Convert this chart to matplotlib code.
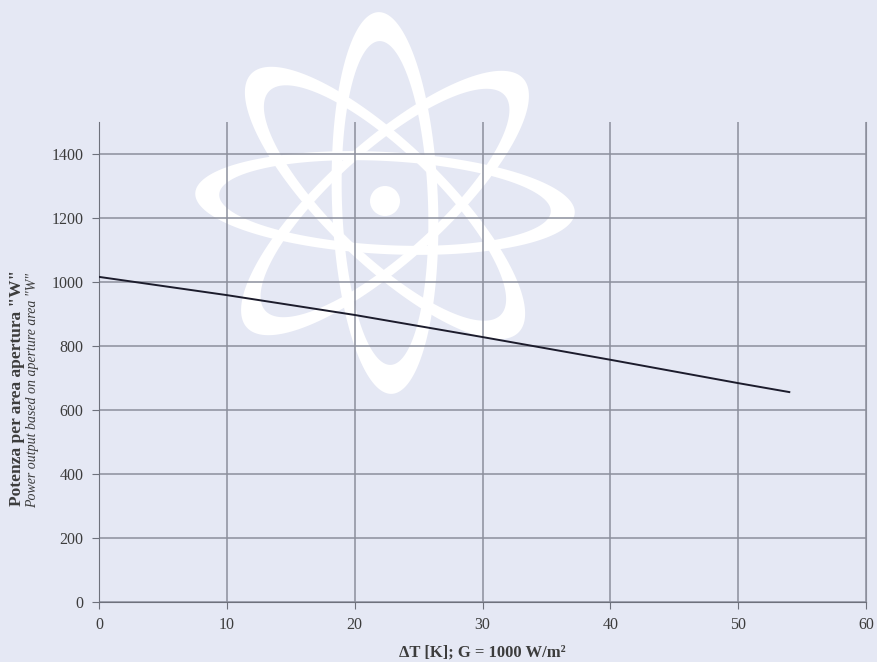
import numpy as np
import matplotlib.pyplot as plt
from matplotlib.path import Path
from matplotlib.patches import PathPatch, Circle

# collector power vs temperature difference
delta_t = [0, 10, 20, 30, 40, 50, 54]
power = [1016, 959, 897, 828, 757, 684, 656]

x_ticks = [0, 10, 20, 30, 40, 50, 60]
y_ticks = [0, 200, 400, 600, 800, 1000, 1200, 1400]

bg = '#e5e8f4'
grid_col = '#8c8f9c'
text_col = '#3c3c3c'

W, H = 877, 662
fig = plt.figure(figsize=(W / 100, H / 100), dpi=100)
fig.patch.set_facecolor(bg)


def ring(cx, cy, a, b, a_in, b_in, angle):
    t = np.linspace(0, 2 * np.pi, 200)
    outer = np.column_stack([a * np.cos(t), b * np.sin(t)])
    inner = np.column_stack([a_in * np.cos(t), b_in * np.sin(t)])[::-1]
    th = np.radians(angle)
    rot = np.array([[np.cos(th), -np.sin(th)], [np.sin(th), np.cos(th)]])
    verts = np.vstack([outer @ rot.T, inner @ rot.T]) + [cx, cy]
    codes = ([Path.MOVETO] + [Path.LINETO] * 199 +
             [Path.MOVETO] + [Path.LINETO] * 199)
    return PathPatch(Path(verts, codes), fc='white', ec='none')


# atom logo behind the plot, drawn in pixel coordinates (y up)
bg_ax = fig.add_axes([0, 0, 1, 1])
bg_ax.set_xlim(0, W)
bg_ax.set_ylim(0, H)
bg_ax.axis('off')
cx, cy = 385, H - 203
bg_ax.add_patch(ring(cx, cy, 190, 51, 166, 42, -3))
bg_ax.add_patch(ring(cx, cy, 191, 53, 162, 43, 92))
bg_ax.add_patch(ring(cx, cy, 186, 60, 161, 51, 42))
bg_ax.add_patch(ring(cx, cy, 186, 60, 161, 51, -44))
bg_ax.add_patch(Circle((cx, cy + 2), 15, fc='white', ec='none'))

ax = fig.add_axes([99 / W, 60 / H, 767 / W, 480 / H])
ax.set_facecolor('none')
ax.plot(delta_t, power, color='#1c1c2c', lw=1.4, zorder=3)

ax.set_xlim(0, 60)
ax.set_ylim(0, 1500)
ax.set_xticks(x_ticks)
ax.set_yticks(y_ticks)
ax.grid(True, color=grid_col, lw=1.1)
ax.set_axisbelow(True)

ax.spines['top'].set_visible(False)
ax.spines['right'].set_color(grid_col)
ax.spines['left'].set_color('#6e717c')
ax.spines['bottom'].set_color('#6e717c')
ax.tick_params(colors='#6e717c', length=5, labelcolor=text_col,
               labelsize=11.5, pad=6)
for lbl in ax.get_xticklabels() + ax.get_yticklabels():
    lbl.set_family('Liberation Serif')

ax.set_xlabel('ΔT [K]; G = 1000 W/m²', family='Liberation Serif',
              fontweight='bold', fontsize=12, color=text_col, labelpad=8)

fig.text(17 / W, 1 - 388 / H, 'Potenza per area apertura "W"',
         family='Liberation Serif', fontweight='bold', fontsize=12.5,
         color=text_col, rotation=90, ha='center', va='center')
fig.text(33 / W, 1 - 390 / H, 'Power output based on aperture area "W"',
         family='Liberation Serif', style='italic', fontsize=10,
         color=text_col, rotation=90, ha='center', va='center')

fig.savefig('out.png', dpi=100, facecolor=bg)
